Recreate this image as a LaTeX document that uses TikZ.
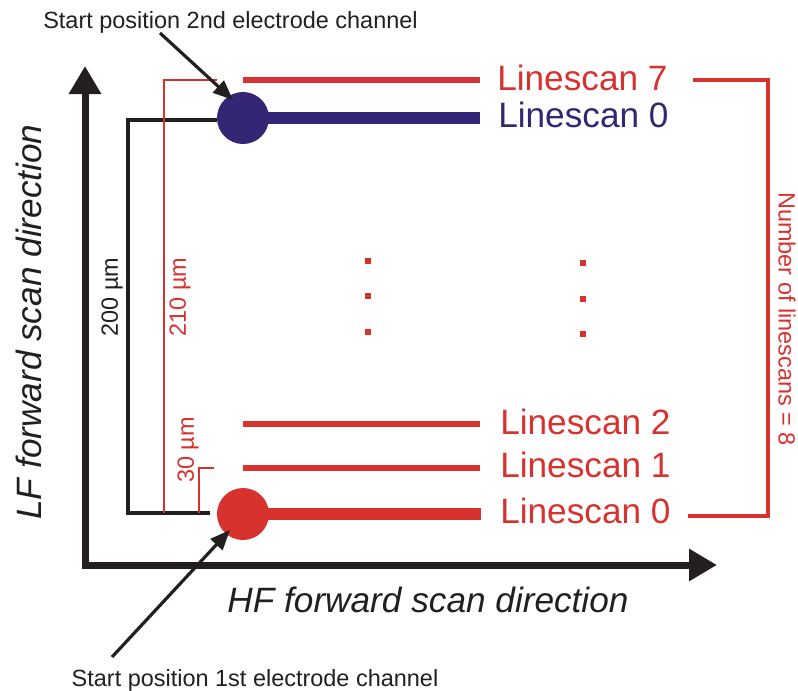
\documentclass[tikz,border=0pt]{standalone}
\usepackage{fontspec}
\setmainfont{Liberation Sans}
\usetikzlibrary{arrows.meta}
\definecolor{scanred}{RGB}{215,50,46}
\definecolor{scanblue}{RGB}{52,38,116}
\definecolor{inkblack}{RGB}{35,31,32}
\tikzset{
    scanlabel/.style={anchor=west,inner sep=0pt,font=\fontsize{26.4}{30}\selectfont},
    notelabel/.style={inner sep=0pt,font=\fontsize{17.6}{20}\selectfont},
    axislabel/.style={inner sep=0pt,text=inkblack,font=\fontsize{26.4}{30}\selectfont\itshape},
    electrode/.style={circle,inner sep=0pt,minimum size=39pt},
    thickscan/.style={line width=9.2pt},
    thinscan/.style={draw=scanred,line width=4.5pt},
    bracket/.style={line width=2.4pt},
    pointer/.style={draw=inkblack,line width=2.4pt,-{Triangle[length=15pt,width=12pt]}}
}
\begin{document}
\begin{tikzpicture}[x=0.75pt,y=-0.75pt]
    \useasboundingbox (0,0) rectangle (798,690);
    % axes
    \coordinate (ytip) at (85,66);
    \coordinate (o) at (85,565);
    \coordinate (xtip) at (717,565);
    \draw[draw=inkblack,line width=5.25pt,{Triangle[length=21pt,width=23pt]}-{Triangle[length=21pt,width=23pt]}] (ytip) -- (o) -- (xtip);
    \node[axislabel,rotate=90] (lf) at (28.5,322) {LF forward scan direction};
    \node[axislabel] (hf) at (428,599.5) {HF forward scan direction};
    % linescans
    \node[scanlabel,text=scanred] (s7) at (497,78) {Linescan 7};
    \node[scanlabel,text=scanblue] (b0) at (498,115) {Linescan 0};
    \node[scanlabel,text=scanred] (s2) at (500,422) {Linescan 2};
    \node[scanlabel,text=scanred] (s1) at (500,465) {Linescan 1};
    \node[scanlabel,text=scanred] (s0) at (500,511) {Linescan 0};
    \draw[thinscan] (243,80) -- (480,80);
    \draw[thinscan] (243,424) -- (480,424);
    \draw[thinscan] (243,468) -- (480,468);
    \foreach \x/\y in {368/261,368/296,368/332,583/263,583/299,583/334}
        \fill[scanred] (\x-3,\y-3) rectangle (\x+3,\y+3);
    % distances
    \draw[bracket,inkblack,line width=3pt] (210,513) -- (128,513) -- (128,120) -- (217,120);
    \draw[bracket,scanred,line width=2.2pt] (164,513) -- (164,80) -- (217,80);
    \draw[bracket,scanred,line width=2.2pt] (199,513) -- (199,468) -- (214,468);
    \node[notelabel,text=inkblack,rotate=90] (d200) at (112,297) {200 µm};
    \node[notelabel,text=scanred,rotate=90] (d210) at (180,297) {210 µm};
    \node[notelabel,text=scanred,rotate=90] (d30) at (188,450) {30 µm};
    \draw[bracket,scanred] (693,80) -- (768,80) -- (768,516) -- (688,516);
    \node[notelabel,text=scanred,rotate=-90] (n) at (787,319) {Number of linescans = 8};
    % electrodes
    \node[electrode,fill=scanblue] (c2) at (243,118) {};
    \node[electrode,fill=scanred] (c1) at (243,514) {};
    \draw[thickscan,scanblue] (c2.center) -- (480,118);
    \draw[thickscan,scanred] (c1.center) -- (481,514);
    \node[notelabel,text=inkblack,anchor=base] (t2) at (230.5,28) {Start position 2nd electrode channel};
    \node[notelabel,text=inkblack,anchor=base] (t1) at (255,686) {Start position 1st electrode channel};
    \coordinate (p2) at (160,33);
    \coordinate (q2) at (233,100);
    \coordinate (p1) at (112,657);
    \coordinate (q1) at (230,530);
    \draw[pointer] (p2) -- (q2);
    \draw[pointer] (p1) -- (q1);
\end{tikzpicture}
\end{document}
